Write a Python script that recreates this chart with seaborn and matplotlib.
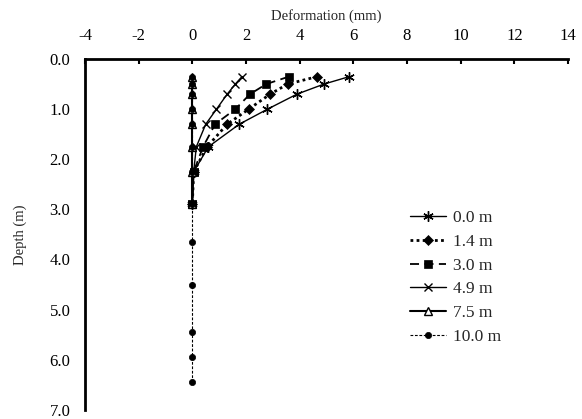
import matplotlib
matplotlib.use("Agg")
import matplotlib.pyplot as plt
import seaborn as sns
import numpy as np

depths = [0.35, 0.5, 0.7, 1.0, 1.3, 1.75, 2.25, 2.9, 3.65, 4.5, 5.45, 5.95, 6.45]
labels = ["0.0 m", "1.4 m", "3.0 m", "4.9 m", "7.5 m", "10.0 m"]
def_00 = [5.85, 4.9, 3.9, 2.8, 1.75, 0.6, 0.05, 0.0]
def_14 = [4.65, 3.55, 2.9, 2.1, 1.3, 0.55, 0.05, 0.0]
def_30 = [3.6, 2.75, 2.15, 1.6, 0.85, 0.4, 0.05, 0.0]
def_49 = [1.85, 1.6, 1.3, 0.9, 0.5, 0.15, 0.05, 0.0]
def_75 = [0.0, 0.0, 0.0, 0.0, 0.0, 0.0, 0.0, 0.0]
def_100 = [0.0, 0.0, 0.0, 0.0, 0.0, 0.0, 0.0, 0.0, 0.0, 0.0, 0.0, 0.0, 0.0]
x_ticks = [-4, -2, 0, 2, 4, 6, 8, 10, 12, 14]
y_ticks = [0.0, 1.0, 2.0, 3.0, 4.0, 5.0, 6.0, 7.0]

sns.set_style("white")
plt.rcParams['font.family'] = ['Liberation Serif', 'DejaVu Serif']

fig = plt.figure(figsize=(5.82, 4.19), dpi=100)
ax = fig.add_axes([0.146, 0.022, 0.976 - 0.146, 0.859 - 0.022])

series = [def_00, def_14, def_30, def_49, def_75, def_100]
styles = [
    dict(linestyle='-', linewidth=1.0, marker=(6, 2, 0), markersize=7.5, markeredgewidth=1.0),
    dict(linestyle=(0, (1, 1.2)), linewidth=2.0, marker='D', markersize=5.5, markeredgewidth=0.5),
    dict(linestyle=(0, (5, 3)), linewidth=1.3, marker='s', markersize=5.5, markeredgewidth=0.5),
    dict(linestyle='-', linewidth=1.0, marker='x', markersize=6, markeredgewidth=1.0),
    dict(linestyle='-', linewidth=1.5, marker='^', markersize=5.5, markerfacecolor='white',
         markeredgewidth=1.0),
    dict(linestyle=(0, (2.5, 1.5)), linewidth=0.8, marker='o', markersize=4.5, markeredgewidth=0.5),
]
for vals, lab, st in zip(series, labels, styles):
    d = depths[:len(vals)]
    sns.lineplot(x=vals, y=d, sort=False, estimator=None, ax=ax, color='black',
                 markeredgecolor='black', label=lab, **st)

ax.set_xlim(-4, 14)
ax.set_ylim(7.0, 0.0)
ax.set_xticks(x_ticks)
ax.set_xticklabels([str(t) for t in x_ticks])
ax.set_yticks(y_ticks)
ax.set_yticklabels([f"{t:.1f}" for t in y_ticks])
ax.xaxis.tick_top()
ax.xaxis.set_label_position('top')
ax.set_xlabel("Deformation (mm)", fontsize=10.5, labelpad=6)
ax.set_ylabel("Depth (m)", fontsize=10.5, labelpad=16)
ax.tick_params(axis='both', direction='in', length=3.5, width=1.5, labelsize=12, colors='black')
ax.tick_params(axis='x', pad=10.5)
ax.tick_params(axis='y', pad=10.5)
for s in ['right', 'bottom']:
    ax.spines[s].set_visible(False)
for s in ['left', 'top']:
    ax.spines[s].set_linewidth(2.0)
    ax.spines[s].set_color('black')

leg = ax.legend(loc='upper left', bbox_to_anchor=(403 / 582, 1 - 203 / 419),
                bbox_transform=fig.transFigure, frameon=False, fontsize=12.5,
                handlelength=2.1, handletextpad=0.4, labelspacing=0.44, borderaxespad=0)

fig.savefig("out.png", dpi=100)
